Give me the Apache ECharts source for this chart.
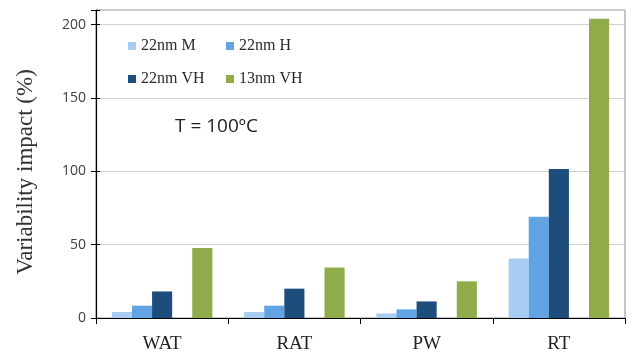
<!DOCTYPE html>
<html>
<head>
<meta charset="utf-8">
<script src="https://cdn.jsdelivr.net/npm/echarts@6/dist/echarts.min.js"></script>
<style>
  html, body { margin: 0; padding: 0; background: #fff; }
  #chart { width: 636px; height: 354px; }
</style>
</head>
<body>
<div id="chart"></div>
<script>
  // categories and values
  var categories = ['WAT', 'RAT', 'PW', 'RT'];
  var m22 = [4.1, 4.1, 3.1, 40.6];
  var h22 = [8.4, 8.4, 5.9, 69];
  var vh22 = [18.1, 20, 11.3, 101.6];
  var vh13 = [47.7, 34.5, 25, 204];
  var yTicks = [0, 50, 100, 150, 200];

  var serif = '"Liberation Serif", "DejaVu Serif", serif';
  var sans = '"Open Sans", "Liberation Sans", sans-serif';

  var myChart = echarts.init(document.getElementById('chart'));

  function bar(name, data, color) {
    return {
      name: name,
      type: 'bar',
      data: data,
      barGap: '0%',
      barCategoryGap: '24%',
      itemStyle: { color: color },
      animation: false
    };
  }

  // one legend per item so the 2x2 grid lines up like the original
  function legendItem(name, left, top) {
    return {
      data: [name],
      left: left, top: top,
      padding: 0,
      itemWidth: 8, itemHeight: 8, itemGap: 0,
      icon: 'rect',
      textStyle: { fontFamily: serif, fontSize: 16, color: '#2a2a2a', padding: [0, 0, 0, 0] }
    };
  }

  myChart.setOption({
    backgroundColor: '#fff',
    grid: {
      left: 96, right: 11, top: 10, bottom: 36,
      show: true,
      borderColor: '#8c8c8c',
      borderWidth: 1
    },
    legend: [
      legendItem('22nm M', 128, 38),
      legendItem('22nm H', 226, 38),
      legendItem('22nm VH', 128, 71),
      legendItem('13nm VH', 226, 71)
    ],
    graphic: [
      {
        type: 'text',
        left: 175, top: 117,
        style: { text: 'T = 100ºC', font: '19px ' + sans, fill: '#222' }
      },
      {
        type: 'text',
        x: 26, y: 172,
        rotation: Math.PI / 2,
        style: {
          text: 'Variability impact (%)',
          font: '23px ' + serif,
          fill: '#333',
          align: 'center',
          verticalAlign: 'middle'
        }
      }
    ],
    xAxis: {
      type: 'category',
      data: categories,
      axisLine: { lineStyle: { color: '#000', width: 1.2 } },
      axisTick: { show: true, length: 6, lineStyle: { color: '#000' } },
      axisLabel: { fontFamily: serif, fontSize: 19, color: '#222', margin: 17 },
      splitLine: { show: false }
    },
    yAxis: [
      {
        type: 'value',
        min: 0, max: 210, interval: 50,
        axisLine: { show: true, lineStyle: { color: '#000', width: 1.2 } },
        axisTick: { show: true, length: 5, lineStyle: { color: '#000' } },
        axisLabel: {
          fontFamily: sans, fontSize: 14, color: '#404040', margin: 10,
          formatter: function (v) { return yTicks.indexOf(v) >= 0 ? v : ''; }
        },
        splitLine: { show: true, lineStyle: { color: '#d0d0d0', width: 1.2 } }
      },
      {
        // second copy only to make the ticks cross the axis
        type: 'value',
        position: 'left',
        min: 0, max: 210, interval: 50,
        axisLine: { show: false },
        axisTick: { show: true, inside: true, length: 4, lineStyle: { color: '#000' } },
        axisLabel: { show: false },
        splitLine: { show: false }
      }
    ],
    series: [
      bar('22nm M', m22, '#a9cdf2'),
      bar('22nm H', h22, '#62a3e4'),
      bar('22nm VH', vh22, '#1d4d7c'),
      bar('', [null, null, null, null], 'transparent'),
      bar('13nm VH', vh13, '#90ab4a')
    ]
  });
</script>
</body>
</html>
